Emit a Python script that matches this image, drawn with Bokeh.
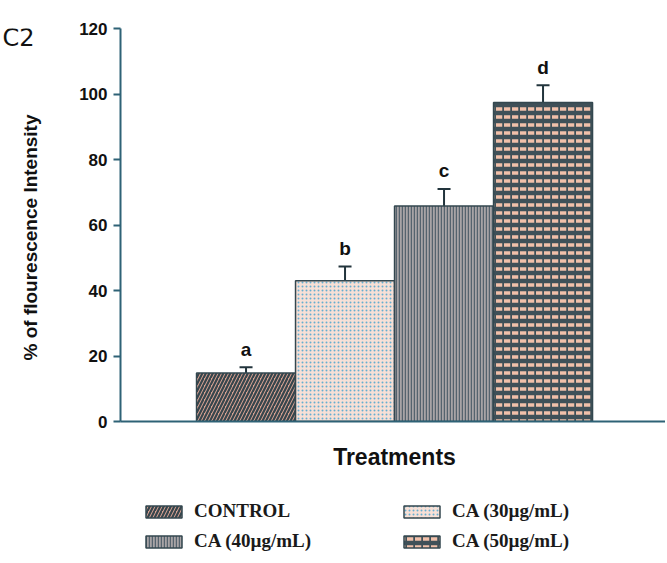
import math
from bokeh.plotting import figure
from bokeh.layouts import column, row
from bokeh.models import (Range1d, ColumnDataSource, Whisker, TeeHead, Legend,
                          LegendItem, Label, FixedTicker)
from bokeh.embed import file_html
from bokeh.resources import INLINE
from bokeh.core.properties import value

# ---- data ----
categories = ["CONTROL", "CA (30µg/mL)", "CA (40µg/mL)", "CA (50µg/mL)"]
means = [14.8, 43.0, 65.8, 97.4]
errors = [1.8, 4.3, 5.2, 5.3]
letters = ["a", "b", "c", "d"]
y_ticks = [0, 20, 40, 60, 80, 100, 120]

xs = [1, 2, 3, 4]
AX = "#2e6276"
EDGE = "#33474f"
TXT = "#111111"

TOTAL_W = 665
LEFT_W = 64
MAIN_H = 441
BOT_H = 112
FRAME_TOP = 28
FRAME_BOTTOM = 421


def bare(fig):
    fig.axis.visible = False
    fig.xgrid.visible = False
    fig.ygrid.visible = False
    fig.outline_line_color = None
    return fig


# ---- left strip: panel tag and y title (its frame lines up with the chart's) ----
lf = bare(figure(width=LEFT_W, height=MAIN_H, output_backend="svg", toolbar_location=None,
                 x_range=Range1d(0, LEFT_W), y_range=Range1d(-FRAME_BOTTOM, -FRAME_TOP),
                 min_border=0))
lf.add_layout(Label(x=2, y=-37, text="C2", text_font="DejaVu Sans", text_font_size="24px",
                    text_color=TXT, text_align="left", text_baseline="middle"))
lf.add_layout(Label(x=30, y=-237, text="% of flourescence Intensity", angle=math.pi / 2,
                    text_align="center", text_baseline="middle",
                    text_font="Liberation Sans", text_font_style="bold",
                    text_font_size="19px", text_color=TXT))

# ---- main chart ----
p = figure(width=TOTAL_W - LEFT_W, height=MAIN_H, output_backend="svg",
           toolbar_location=None,
           x_range=Range1d(-0.268, 5.237), y_range=Range1d(0, 120),
           min_border_left=120 - LEFT_W, min_border_right=0, min_border_top=FRAME_TOP,
           min_border_bottom=MAIN_H - FRAME_BOTTOM)
p.outline_line_color = None
p.xgrid.visible = False
p.ygrid.visible = False

styles = [
    dict(fill_color="#d9a393", hatch_pattern="right_diagonal_line", hatch_color="#36454c",
         hatch_scale=7, hatch_weight=2.2),
    dict(fill_color="#f7e0d6", hatch_pattern="dot", hatch_color="#66aed0",
         hatch_scale=4, hatch_weight=3),
    dict(fill_color="#a8a4a6", hatch_pattern="vertical_line", hatch_color="#55636e",
         hatch_scale=3, hatch_weight=1.5),
    dict(fill_color="#3f5058", hatch_pattern="horizontal_dash", hatch_color="#f1c0aa",
         hatch_scale=8, hatch_weight=3.5),
]

sources = [ColumnDataSource(dict(x=[xs[i]], top=[means[i]])) for i in range(4)]
for i in range(4):
    p.vbar(x="x", top="top", bottom=0, width=1.0, source=sources[i],
           line_color=EDGE, line_width=1.5, **styles[i])

esrc = ColumnDataSource(dict(x=xs,
                             upper=[m + e for m, e in zip(means, errors)],
                             lower=[m - e for m, e in zip(means, errors)]))
p.add_layout(Whisker(base="x", upper="upper", lower="lower", source=esrc,
                     line_color="#22343c", line_width=2,
                     upper_head=TeeHead(size=13, line_color="#22343c", line_width=2),
                     lower_head=TeeHead(size=13, line_color="#22343c", line_width=2)))

lsrc = ColumnDataSource(dict(x=xs, y=[m + e + 5.5 for m, e in zip(means, errors)], t=letters))
p.text(x="x", y="y", text="t", source=lsrc, text_align="center",
       text_baseline="alphabetic", text_font=value("Liberation Sans"),
       text_font_style="bold", text_font_size="19px", text_color=TXT)

ya = p.yaxis[0]
ya.ticker = FixedTicker(ticks=y_ticks)
ya.axis_line_color = AX
ya.axis_line_width = 2
ya.major_tick_line_color = AX
ya.major_tick_line_width = 2
ya.major_tick_out = 7
ya.major_tick_in = 0
ya.minor_tick_line_color = None
ya.major_label_text_font = "Liberation Sans"
ya.major_label_text_font_style = "bold"
ya.major_label_text_font_size = "17px"
ya.major_label_text_color = TXT
ya.major_label_standoff = 6

xa = p.xaxis[0]
xa.axis_line_color = AX
xa.axis_line_width = 2
xa.major_tick_line_color = None
xa.minor_tick_line_color = None
xa.major_label_text_font_size = "0px"
xa.major_label_text_color = None
xa.major_label_standoff = 0

# ---- bottom strip: x title and legend ----
bf = bare(figure(width=TOTAL_W, height=BOT_H, output_backend="svg", toolbar_location=None,
                 x_range=Range1d(-TOTAL_W, 0), y_range=Range1d(-BOT_H, 0), min_border=0))
bf.add_layout(Label(x=394 - TOTAL_W, y=-15, text="Treatments", text_align="center",
                    text_baseline="middle", text_font="Liberation Sans",
                    text_font_style="bold", text_font_size="23px", text_color=TXT))
items = []
for i in range(4):
    # legend swatches only: these bars fall outside this strip's visible range
    r = bf.vbar(x="x", top="top", bottom=0, width=1.0, source=sources[i],
                line_color=EDGE, line_width=1.5, **styles[i])
    items.append(LegendItem(label=categories[i], renderers=[r]))
leg = Legend(items=items, ncols=2, orientation="horizontal", location=(141, 1),
             border_line_color=None, background_fill_alpha=0, padding=0, margin=0,
             glyph_width=45, glyph_height=15, label_height=15, label_width=197,
             label_standoff=8, spacing=8,
             label_text_font="Liberation Serif", label_text_font_style="bold",
             label_text_font_size="19px", label_text_color="#1a1a1a")
bf.add_layout(leg, "center")

layout = column(row(lf, p, spacing=0), bf, spacing=0)
open("out.html", "w").write(file_html(layout, INLINE))
